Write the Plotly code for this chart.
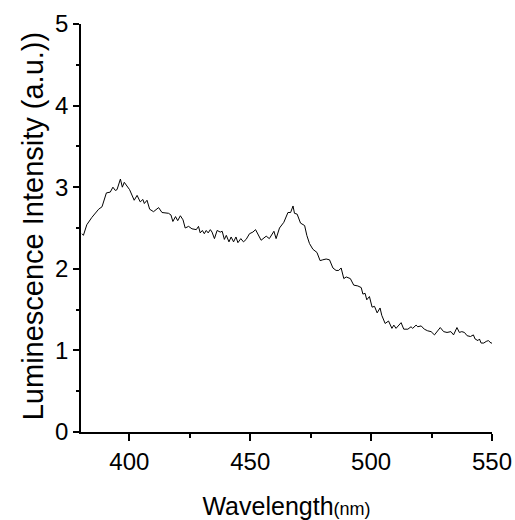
import plotly.graph_objects as go

wavelength = [380.4, 381.0, 382.4, 384.5, 387.3, 388.7, 390.5, 392.1, 393.2, 394.2, 394.9, 396.3, 397.1, 397.9,
              400.1, 402.0, 403.2, 404.5, 405.6, 406.2, 407.3, 408.4, 410.0, 412.1, 413.5, 416.2, 417.2, 418.0,
              419.1, 420.0, 421.1, 422.2, 423.1, 424.5, 425.9, 427.7, 428.6, 429.3, 430.2, 431.0, 431.8, 432.6,
              433.5, 434.2, 435.2, 436.3, 437.6, 438.4, 439.3, 440.1, 441.2, 442.1, 443.1, 444.1, 444.9, 446.1,
              447.2, 448.3, 449.7, 451.1, 452.2, 453.4, 454.5, 456.6, 457.9, 459.8, 460.7, 462.1, 463.9, 465.6,
              466.7, 467.7, 468.3, 469.4, 470.8, 472.5, 473.4, 474.5, 475.9, 477.6, 478.9, 480.0, 481.4, 482.8,
              484.2, 485.5, 486.6, 487.6, 488.7, 489.7, 491.4, 492.8, 494.5, 495.9, 496.6, 497.5, 498.2, 499.3,
              500.4, 501.4, 502.5, 503.7, 504.4, 505.8, 507.2, 508.6, 509.4, 510.3, 511.3, 512.4, 513.5, 515.2,
              516.5, 517.2, 518.6, 519.3, 520.7, 522.0, 523.4, 524.8, 526.2, 527.3, 528.6, 530.0, 531.4, 533.0,
              534.1, 535.5, 536.5, 537.5, 538.6, 539.7, 541.1, 542.3, 543.0, 544.2, 544.8, 545.5, 546.6, 547.6,
              548.5, 549.6, 550.0]
intensity = [2.43, 2.41, 2.54, 2.63, 2.73, 2.76, 2.93, 2.94, 3.00, 2.96, 2.97, 3.10, 3.00, 3.06,
             2.97, 2.84, 2.90, 2.82, 2.85, 2.80, 2.84, 2.73, 2.70, 2.75, 2.69, 2.68, 2.66, 2.58,
             2.64, 2.59, 2.65, 2.60, 2.50, 2.52, 2.49, 2.48, 2.52, 2.44, 2.47, 2.43, 2.47, 2.44,
             2.48, 2.45, 2.37, 2.47, 2.45, 2.46, 2.36, 2.41, 2.33, 2.39, 2.33, 2.39, 2.32, 2.37,
             2.33, 2.36, 2.43, 2.45, 2.48, 2.41, 2.35, 2.40, 2.37, 2.46, 2.37, 2.50, 2.57, 2.69,
             2.69, 2.77, 2.68, 2.67, 2.56, 2.53, 2.41, 2.31, 2.24, 2.20, 2.10, 2.11, 2.12, 2.11,
             2.01, 1.98, 1.98, 2.01, 1.88, 1.90, 1.88, 1.80, 1.79, 1.77, 1.69, 1.70, 1.62, 1.66,
             1.53, 1.54, 1.46, 1.52, 1.43, 1.33, 1.36, 1.27, 1.31, 1.27, 1.30, 1.34, 1.26, 1.26,
             1.29, 1.27, 1.31, 1.29, 1.30, 1.26, 1.24, 1.23, 1.19, 1.23, 1.28, 1.23, 1.22, 1.23,
             1.19, 1.28, 1.22, 1.23, 1.22, 1.18, 1.17, 1.19, 1.14, 1.12, 1.14, 1.09, 1.09, 1.11,
             1.12, 1.09, 1.09]

x_ticks = [400, 450, 500, 550]
y_ticks = [0, 1, 2, 3, 4, 5]
y_title = "Luminescence Intensity (a.u.))"

FONT = "Liberation Sans, Arial, sans-serif"

fig = go.Figure(go.Scatter(x=wavelength, y=intensity, mode="lines",
                           line=dict(color="black", width=1), showlegend=False))

fig.update_layout(
    width=515, height=520,
    margin=dict(l=81, r=23, t=24, b=88, autoexpand=False),
    paper_bgcolor="white", plot_bgcolor="white",
    font=dict(family=FONT, color="black", size=24),
    xaxis=dict(
        range=[380, 550], tickvals=x_ticks, ticks="outside", ticklen=7, tickwidth=1.5,
        tickcolor="black", showline=True, linewidth=1.5, linecolor="black",
        showgrid=False, zeroline=False, tickfont=dict(size=24), automargin=False,
        minor=dict(dtick=25, tick0=375, ticks="outside", ticklen=4, tickwidth=1.5, tickcolor="black"),
        title=dict(text="Wavelength<span style='font-size:18px'>(nm)</span>",
                   font=dict(size=25), standoff=24),
    ),
    yaxis=dict(
        range=[0, 5], tickvals=y_ticks, ticks="outside", ticklen=6, tickwidth=1.5,
        tickcolor="black", showline=True, linewidth=1.5, linecolor="black",
        showgrid=False, zeroline=False, tickfont=dict(size=24), automargin=False,
        minor=dict(dtick=0.5, tick0=0, ticks="outside", ticklen=3, tickwidth=1.5, tickcolor="black"),
    ),
    annotations=[dict(text=y_title, xref="paper", yref="paper", x=-0.116, y=0.505,
                      xanchor="center", yanchor="middle", textangle=-90, showarrow=False,
                      font=dict(size=29, family=FONT, color="black"))],
)

fig.write_html("out.html")
